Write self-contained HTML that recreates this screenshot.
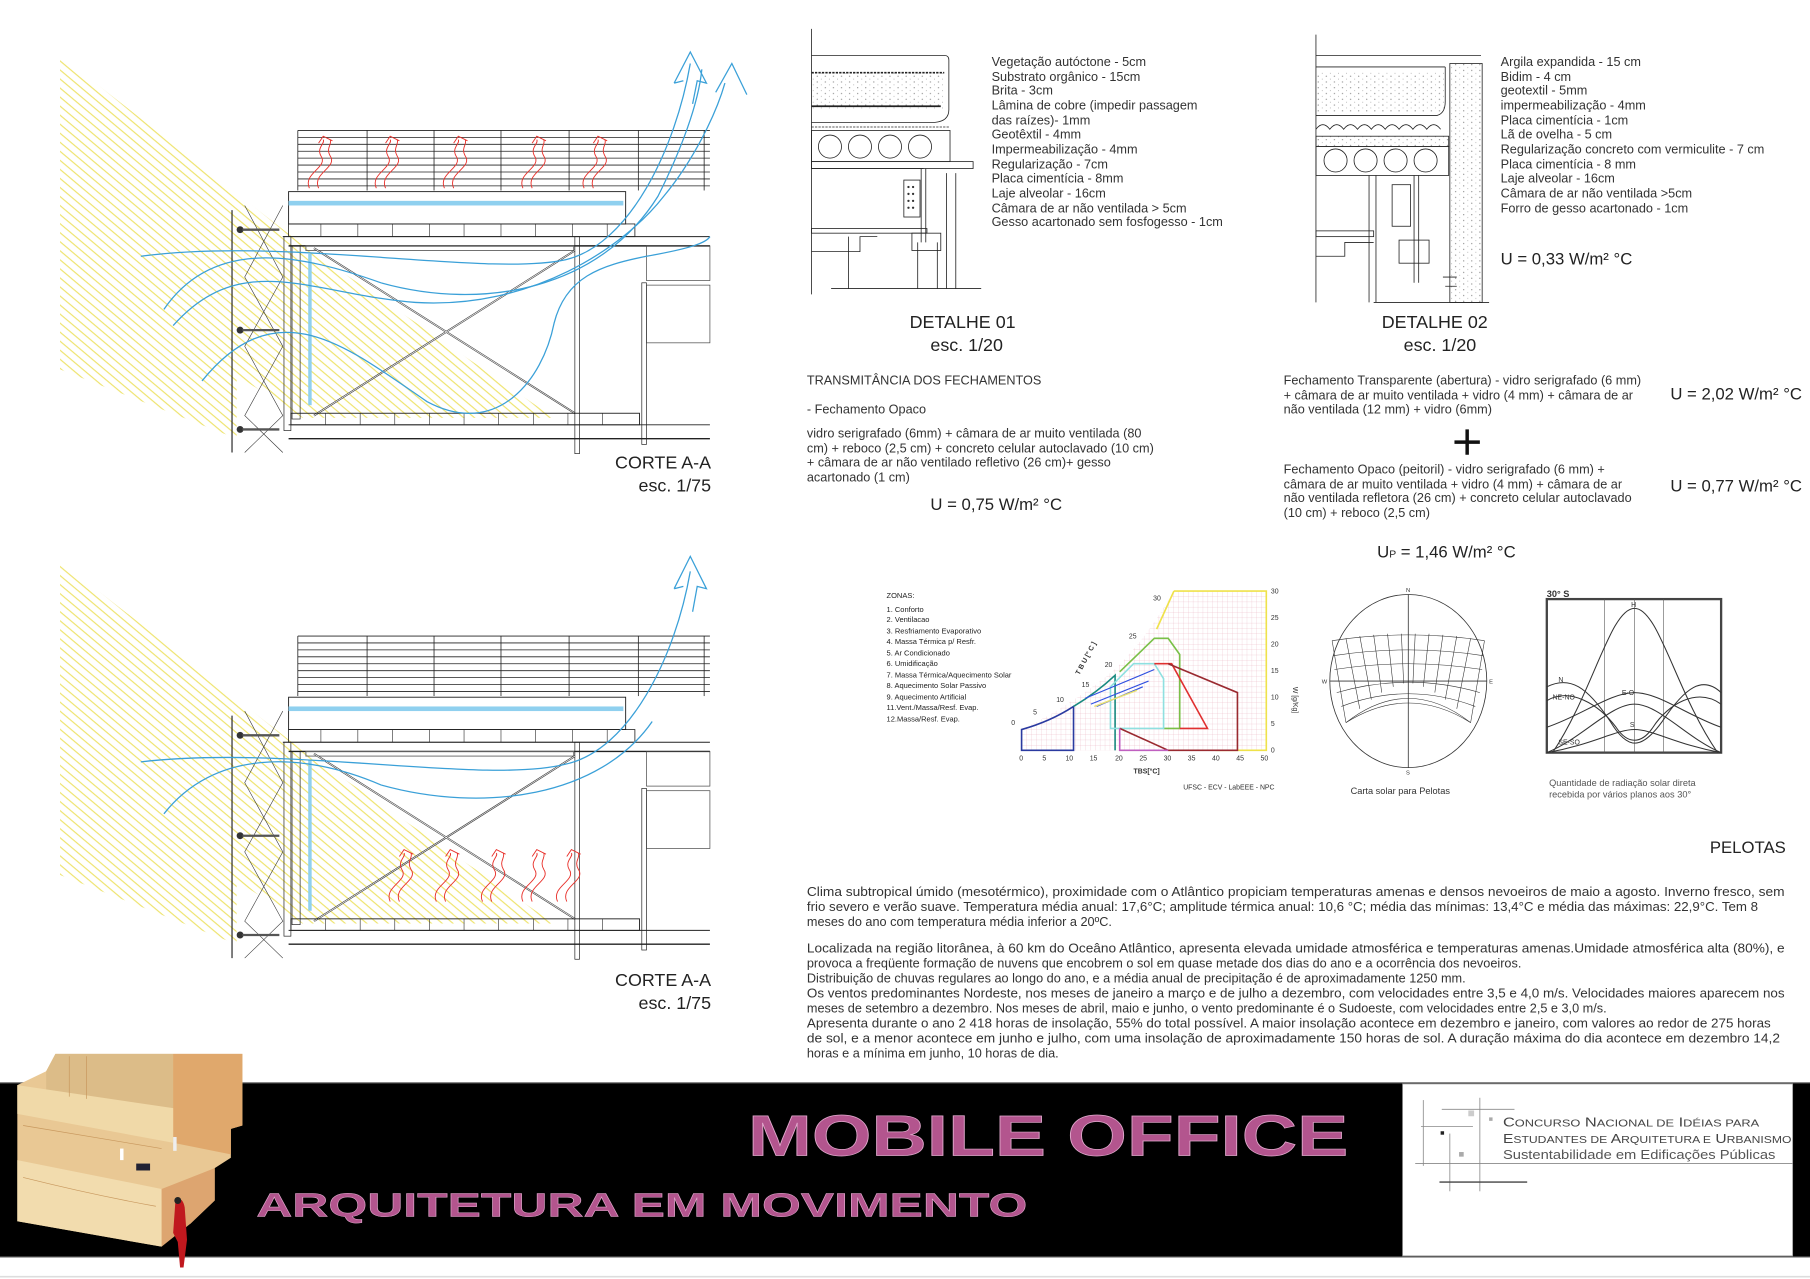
<!DOCTYPE html>
<html><head><meta charset="utf-8"><style>
html,body{margin:0;padding:0;background:#fff;}
svg{display:block;}
text{font-family:"Liberation Sans",sans-serif;}
</style></head><body>
<svg width="1810" height="1279" viewBox="0 0 1568 1108" xmlns="http://www.w3.org/2000/svg">
<defs>
<pattern id="yl" patternUnits="userSpaceOnUse" width="6" height="6" patternTransform="rotate(40)">
<line x1="0" y1="1" x2="6" y2="1" stroke="#ece05a" stroke-width="0.9"/>
</pattern>
<pattern id="grid" patternUnits="userSpaceOnUse" width="4.24" height="4.6" x="885" y="512">
<path d="M0,0V4.6M0,0H4.24" stroke="#e8b0c0" stroke-width="0.4" fill="none"/>
</pattern>
<pattern id="dots" patternUnits="userSpaceOnUse" width="7" height="5">
<circle cx="1" cy="1" r="0.5" fill="#777"/><circle cx="4.5" cy="3.5" r="0.4" fill="#999"/>
</pattern>
<g id="bld">
<polygon points="52,48 262,212 480,362 262,362 205,325 205,380 52,320" fill="url(#yl)"/>
<line x1="201" y1="182" x2="201" y2="392" stroke="#222" stroke-width="1"/>
<path d="M212,178 L245,240 L212,300 L245,360 L212,392 M245,178 L212,240 L245,300 L212,360 L245,392" stroke="#333" stroke-width="0.5" fill="none"/>
<g fill="#333"><circle cx="208" cy="199" r="3"/><circle cx="208" cy="286" r="3"/><circle cx="208" cy="372" r="3"/></g>
<path d="M210,199 H242 M210,286 H242 M210,372 H242" stroke="#555" stroke-width="2"/>
<g stroke="#222" stroke-width="0.7">
<line x1="258" y1="113" x2="615" y2="113"/>
<line x1="258" y1="119" x2="615" y2="119"/><line x1="258" y1="125" x2="615" y2="125"/>
<line x1="258" y1="131" x2="615" y2="131"/><line x1="258" y1="137" x2="615" y2="137"/>
<line x1="258" y1="143" x2="615" y2="143"/><line x1="258" y1="149" x2="615" y2="149"/>
<line x1="258" y1="155" x2="615" y2="155"/><line x1="258" y1="161" x2="615" y2="161"/>
<line x1="258" y1="113" x2="258" y2="165"/><line x1="318" y1="113" x2="318" y2="165"/>
<line x1="376" y1="113" x2="376" y2="165"/><line x1="434" y1="113" x2="434" y2="165"/>
<line x1="493" y1="113" x2="493" y2="165"/><line x1="553" y1="113" x2="553" y2="165"/>
<line x1="610" y1="113" x2="610" y2="165"/>
</g>
<rect x="250" y="166" width="292" height="28" fill="none" stroke="#222" stroke-width="0.8"/>
<rect x="250" y="174" width="290" height="4" fill="#8fd0ef"/>
<rect x="250" y="194" width="300" height="11" fill="none" stroke="#222" stroke-width="0.7"/>
<path d="M278,194v11M310,194v11M340,194v11M372,194v11M402,194v11M434,194v11M464,194v11M496,194v11M526,194v11" stroke="#222" stroke-width="0.5"/>
<line x1="245" y1="205" x2="615" y2="205" stroke="#222" stroke-width="0.8"/>
<line x1="250" y1="213" x2="615" y2="213" stroke="#222" stroke-width="1.2"/>
<rect x="265" y="213" width="232" height="4" fill="none" stroke="#666" stroke-width="0.8"/>
<rect x="246" y="205" width="6" height="168" fill="none" stroke="#222" stroke-width="0.6"/>
<rect x="253" y="213" width="7" height="150" fill="none" stroke="#222" stroke-width="0.6"/>
<rect x="267" y="220" width="3" height="131" fill="#8fd0ef"/>
<rect x="498" y="205" width="4" height="188" fill="none" stroke="#222" stroke-width="0.6"/>
<rect x="556" y="245" width="4" height="140" fill="none" stroke="#222" stroke-width="0.6"/>
<rect x="560" y="213" width="55" height="30" fill="none" stroke="#444" stroke-width="0.6"/>
<rect x="560" y="247" width="55" height="50" fill="none" stroke="#444" stroke-width="0.6"/>
<path d="M272,215 L498,358 M272,360 L498,217" stroke="#333" stroke-width="1.6" fill="none"/>
<path d="M272,215 L498,358 M272,360 L498,217" stroke="#fff" stroke-width="0.6" fill="none"/>
<rect x="252" y="358" width="302" height="10" fill="none" stroke="#222" stroke-width="0.8"/>
<path d="M282,358v10M312,358v10M342,358v10M372,358v10M402,358v10M432,358v10M462,358v10M492,358v10M522,358v10" stroke="#222" stroke-width="0.5"/>
<line x1="250" y1="368" x2="615" y2="368" stroke="#222" stroke-width="0.8"/>
<line x1="250" y1="380" x2="615" y2="380" stroke="#222" stroke-width="1.2"/>
</g>
</defs>

<use href="#bld"/>
<g fill="none" stroke="#3aa0d8" stroke-width="1.1">
<path d="M122,222 C250,205 420,240 490,225 C545,212 585,130 598,55"/>
<path d="M142,268 C185,205 260,220 330,245 C420,270 520,250 570,170 C590,130 605,90 608,60"/>
<path d="M150,282 C210,215 270,255 360,262 C460,268 540,215 575,170 C600,140 620,100 628,72"/>
<path d="M175,330 C240,250 300,300 370,348 C430,380 470,330 480,280 C490,240 520,230 560,222 C600,215 612,210 615,205"/>
</g>
<path d="M584,72 L598,45 L612,72 L604,70 L600,90 M592,70 L584,72" fill="none" stroke="#3aa0d8" stroke-width="1.1"/>
<path d="M620,80 L634,55 L647,82" fill="none" stroke="#3aa0d8" stroke-width="1.1"/>
<g fill="none" stroke="#e8302a" stroke-width="0.8">
<path id="sq" d="M268,163 C262,150 285,145 278,135 C274,128 282,124 280,121 M276,163 C270,150 293,145 286,135 C282,128 288,125 286,121 M276,124 L280,118 L288,122"/>
<use href="#sq" x="58"/><use href="#sq" x="117"/><use href="#sq" x="185"/><use href="#sq" x="238"/>
</g>

<use href="#bld" y="438"/>
<g fill="none" stroke="#3aa0d8" stroke-width="1.1">
<path d="M122,660 C250,645 420,680 490,662 C545,650 585,570 598,495"/>
<path d="M142,705 C185,650 260,650 330,680 C420,705 520,690 565,625"/>
</g>
<path d="M584,510 L598,482 L612,510 L604,508 L600,530 M592,508 L584,510" fill="none" stroke="#3aa0d8" stroke-width="1.1"/>
<g fill="none" stroke="#e8302a" stroke-width="0.8">
<use href="#sq" x="70" y="618"/><use href="#sq" x="110" y="618"/><use href="#sq" x="150" y="618"/><use href="#sq" x="185" y="618"/><use href="#sq" x="215" y="618"/>
</g>

<g font-size="15.5" fill="#222" text-anchor="end">
<text x="616" y="406">CORTE A-A</text><text x="616" y="426">esc. 1/75</text>
<text x="616" y="854">CORTE A-A</text><text x="616" y="874">esc. 1/75</text>
</g>

<g fill="none" stroke="#222" stroke-width="0.7">
<line x1="703" y1="25" x2="703" y2="255"/>
<path d="M703,48 H818 Q822,48 822,52 V95 Q822,105 810,106 H703"/>
<rect x="703" y="63" width="116" height="32" fill="url(#dots)" stroke="none"/>
<line x1="703" y1="63" x2="818" y2="63" stroke-width="1.4" stroke-dasharray="2 1"/>
<line x1="703" y1="92" x2="815" y2="92" stroke-width="1.5"/>
<line x1="703" y1="110" x2="822" y2="110" stroke-dasharray="2 1"/>
<rect x="703" y="113" width="120" height="27"/>
<circle cx="719" cy="127" r="10"/><circle cx="745" cy="127" r="10"/><circle cx="771" cy="127" r="10"/><circle cx="797" cy="127" r="10"/>
<rect x="703" y="140" width="140" height="6"/>
<line x1="703" y1="146" x2="800" y2="146"/>
<path d="M798,146 V210 M802,146 V210"/>
<rect x="783" y="156" width="14" height="32"/>
<rect x="703" y="198" width="100" height="4"/>
<path d="M703,218 H745 V205 H760"/>
<rect x="790" y="202" width="25" height="15"/>
<path d="M820,150 V250 M828,150 V250 M812,210 V250 M795,210 V250 M735,205 V250"/>
<line x1="720" y1="250" x2="850" y2="250"/>
</g>
<g fill="#333"><circle cx="787" cy="162" r="1"/><circle cx="791" cy="162" r="1"/><circle cx="787" cy="168" r="1"/><circle cx="791" cy="168" r="1"/><circle cx="787" cy="174" r="1"/><circle cx="791" cy="174" r="1"/><circle cx="787" cy="180" r="1"/><circle cx="791" cy="180" r="1"/></g>

<g fill="none" stroke="#222" stroke-width="0.7">
<line x1="1140" y1="30" x2="1140" y2="262"/>
<path d="M1140,48 H1283 M1140,58 H1252"/>
<rect x="1140" y="62" width="112" height="36" fill="url(#dots)" stroke="none"/>
<path d="M1140,100 H1245 Q1252,98 1252,88 V58"/>
<path d="M1140,112 q6,-8 12,0 q6,-8 12,0 q6,-8 12,0 q6,-8 12,0 q6,-8 12,0 q6,-8 12,0 q6,-8 12,0 q6,-8 12,0 q6,-8 12,0"/>
<rect x="1140" y="118" width="115" height="9" fill="url(#dots)"/>
<rect x="1140" y="127" width="115" height="25"/>
<circle cx="1157" cy="139" r="10"/><circle cx="1183" cy="139" r="10"/><circle cx="1209" cy="139" r="10"/><circle cx="1235" cy="139" r="10"/>
<rect x="1256" y="55" width="28" height="207" fill="url(#dots)"/>
<path d="M1186,152 V262 M1192,152 V262 M1225,152 V245 M1229,152 V245"/>
<rect x="1206" y="160" width="16" height="36"/>
<rect x="1140" y="200" width="50" height="5"/>
<path d="M1140,222 H1165 V210 H1190"/>
<rect x="1212" y="208" width="26" height="20"/>
<path d="M1250,240 H1262 M1252,248 H1262"/>
<line x1="1190" y1="262" x2="1290" y2="262"/>
</g>

<g font-size="11" fill="#333">
<text x="859" y="57">Vegetação autóctone - 5cm</text>
<text x="859" y="70">Substrato orgânico - 15cm</text>
<text x="859" y="82">Brita - 3cm</text>
<text x="859" y="95">Lâmina de cobre (impedir passagem</text>
<text x="859" y="108">das raízes)- 1mm</text>
<text x="859" y="120">Geotêxtil - 4mm</text>
<text x="859" y="133">Impermeabilização - 4mm</text>
<text x="859" y="146">Regularização - 7cm</text>
<text x="859" y="158">Placa cimentícia - 8mm</text>
<text x="859" y="171">Laje alveolar - 16cm</text>
<text x="859" y="184">Câmara de ar não ventilada &gt; 5cm</text>
<text x="859" y="196">Gesso acartonado sem fosfogesso - 1cm</text>
<text x="1300" y="57">Argila expandida - 15 cm</text>
<text x="1300" y="70">Bidim - 4 cm</text>
<text x="1300" y="82">geotextil - 5mm</text>
<text x="1300" y="95">impermeabilização - 4mm</text>
<text x="1300" y="108">Placa cimentícia - 1cm</text>
<text x="1300" y="120">Lã de ovelha - 5 cm</text>
<text x="1300" y="133">Regularização concreto com vermiculite - 7 cm</text>
<text x="1300" y="146">Placa cimentícia - 8 mm</text>
<text x="1300" y="158">Laje alveolar - 16cm</text>
<text x="1300" y="171">Câmara de ar não ventilada &gt;5cm</text>
<text x="1300" y="184">Forro de gesso acartonado - 1cm</text>
</g>
<text x="1300" y="229" font-size="14.5" fill="#222">U = 0,33 W/m² °C</text>
<g font-size="15.5" fill="#222">
<text x="788" y="284">DETALHE 01</text><text x="806" y="304">esc. 1/20</text>
<text x="1197" y="284">DETALHE 02</text><text x="1216" y="304">esc. 1/20</text>
</g>

<g font-size="11" fill="#333">
<text x="699" y="333">TRANSMITÂNCIA DOS FECHAMENTOS</text>
<text x="699" y="358">- Fechamento Opaco</text>
<text x="699" y="379">vidro serigrafado (6mm) + câmara de ar muito ventilada (80</text>
<text x="699" y="392">cm) + reboco (2,5 cm) + concreto celular autoclavado (10 cm)</text>
<text x="699" y="404">+ câmara de ar não ventilado refletivo (26 cm)+ gesso</text>
<text x="699" y="417">acartonado (1 cm)</text>
<text x="1112" y="333">Fechamento Transparente (abertura) - vidro serigrafado (6 mm)</text>
<text x="1112" y="346">+ câmara de ar muito ventilada + vidro (4 mm) + câmara de ar</text>
<text x="1112" y="358">não ventilada (12 mm) + vidro (6mm)</text>
<text x="1112" y="410">Fechamento Opaco (peitoril) - vidro serigrafado (6 mm) +</text>
<text x="1112" y="423">câmara de ar muito ventilada + vidro (4 mm) + câmara de ar</text>
<text x="1112" y="435">não ventilada refletora (26 cm) + concreto celular autoclavado</text>
<text x="1112" y="448">(10 cm) + reboco (2,5 cm)</text>
</g>
<g font-size="14.5" fill="#222">
<text x="806" y="442">U = 0,75 W/m² °C</text>
<text x="1447" y="346">U = 2,02 W/m² °C</text>
<text x="1447" y="426">U = 0,77 W/m² °C</text>
<text x="1193" y="483">U<tspan font-size="9">P</tspan> = 1,46 W/m² °C</text>
</g>
<path d="M1260,383 H1282 M1271,372 V394" stroke="#111" stroke-width="3"/>

<g font-size="6.5" fill="#222">
<text x="768" y="518">ZONAS:</text>
<text x="768" y="530">1. Conforto</text><text x="768" y="539">2. Ventilacao</text>
<text x="768" y="549">3. Resfriamento Evaporativo</text><text x="768" y="558">4. Massa Térmica p/ Resfr.</text>
<text x="768" y="568">5. Ar Condicionado</text><text x="768" y="577">6. Umidificação</text>
<text x="768" y="587">7. Massa Térmica/Aquecimento Solar</text><text x="768" y="596">8. Aquecimento Solar Passivo</text>
<text x="768" y="606">9. Aquecimento Artificial</text><text x="768" y="615">11.Vent./Massa/Resf. Evap.</text>
<text x="768" y="625">12.Massa/Resf. Evap.</text>
</g>
<path d="M885,650 V632 Q930,610 968,578 Q995,550 1017,512 H1097 V650 Z" fill="url(#grid)"/>
<g fill="none" stroke-width="1.4">
<path d="M1017,512 H1097 V650 H1053 M1017,512 L1002,545" stroke="#efe24a"/>
<path d="M885,650 V632 Q910,625 930,612 L930,650 Z" stroke="#2a3aa0"/>
<path d="M930,612 Q950,600 966,585 V650" stroke="#1a8a80"/>
<path d="M970,582 L1000,553 H1012 L1022,567 V631 H1008" stroke="#7ac048"/>
<path d="M962,631 V595 L982,575 H1000 L1008,588 V631 Z" stroke="#8fe0e0"/>
<path d="M1000,575 H1015 L1046,631 H1022" stroke="#e03030"/>
<path d="M1012,575 L1072,600 V650 H1012 L970,631" stroke="#9a2a30"/>
<path d="M970,631 V650 H1012" stroke="#c060c0"/>
<path d="M940,605 L1000,580 M945,610 L995,590 M950,612 L990,595" stroke="#3050e0" stroke-width="1"/>
<path d="M948,612 L985,598" stroke="#e8e070" stroke-width="1.2"/>
</g>
<g font-size="6" fill="#333">
<text x="883" y="659">0</text><text x="903" y="659">5</text><text x="923" y="659">10</text><text x="944" y="659">15</text><text x="966" y="659">20</text><text x="987" y="659">25</text><text x="1008" y="659">30</text><text x="1029" y="659">35</text><text x="1050" y="659">40</text><text x="1071" y="659">45</text><text x="1092" y="659">50</text>
<text x="1101" y="652">0</text><text x="1101" y="629">5</text><text x="1101" y="606">10</text><text x="1101" y="583">15</text><text x="1101" y="560">20</text><text x="1101" y="537">25</text><text x="1101" y="514">30</text>
<text x="876" y="628">0</text><text x="895" y="619">5</text><text x="915" y="608">10</text><text x="937" y="595">15</text><text x="957" y="578">20</text><text x="978" y="553">25</text><text x="999" y="520">30</text>
<text x="982" y="670" font-family="Liberation Serif" font-weight="bold">TBS[°C]</text>
<text x="1025" y="684">UFSC - ECV - LabEEE - NPC</text>
<text x="935" y="585" transform="rotate(-62 935 585)" font-weight="bold">T B U [° C ]</text>
<text x="1120" y="595" transform="rotate(90 1120 595)">W [g/Kg]</text>
</g>

<g fill="none" stroke="#333" stroke-width="0.7">
<ellipse cx="1220" cy="590" rx="68" ry="75"/>
<line x1="1220" y1="515" x2="1220" y2="665"/>
<line x1="1152" y1="590" x2="1288" y2="590"/>
<path d="M1154,555 Q1220,545 1286,555 M1155,568 Q1220,558 1285,568 M1156,580 Q1220,570 1284,580 M1158,600 Q1220,582 1282,600 M1162,612 Q1220,590 1278,612 M1166,626 Q1220,592 1274,626" stroke-width="0.5"/>
<path d="M1166,626 Q1220,584 1274,626 M1154,555 L1166,626 M1286,555 L1274,626 M1166,553 L1178,614 M1178,551 L1188,606 M1190,550 L1197,600 M1202,549 L1207,595 M1214,549 L1216,592 M1226,549 L1224,592 M1238,549 L1233,595 M1250,550 L1243,600 M1262,551 L1252,606 M1274,553 L1262,614" stroke-width="0.5"/>
</g>
<g font-size="5" fill="#333"><text x="1218" y="513">N</text><text x="1218" y="671">S</text><text x="1145" y="592">W</text><text x="1290" y="592">E</text></g>
<text x="1170" y="688" font-size="8" fill="#333">Carta solar para Pelotas</text>

<text x="1340" y="517" font-size="8" font-weight="bold" fill="#333">30° S</text>
<rect x="1340" y="519" width="151" height="133" fill="none" stroke="#444" stroke-width="2"/>
<path d="M1390,519 V652 M1416,519 V652 M1441,519 V652" stroke="#555" stroke-width="0.5"/>
<g fill="none" stroke="#333" stroke-width="0.9">
<path d="M1345,652 C1380,600 1395,527 1416,527 C1437,527 1452,600 1488,652"/>
<path d="M1340,595 C1360,585 1375,595 1395,625 C1410,650 1422,650 1440,625 C1460,595 1475,585 1491,600"/>
<path d="M1340,607 C1360,595 1385,610 1400,630 C1410,645 1422,645 1432,630 C1445,610 1470,595 1491,610"/>
<path d="M1340,630 C1370,620 1395,600 1416,600 C1437,600 1462,620 1491,630"/>
<path d="M1340,652 C1370,640 1395,610 1416,610 C1437,610 1462,640 1491,652"/>
<path d="M1340,652 C1380,645 1400,632 1416,632 C1432,632 1452,645 1491,652"/>
</g>
<g font-size="6" fill="#333"><text x="1413" y="526">H</text><text x="1350" y="591">N</text><text x="1345" y="606">NE-NO</text><text x="1405" y="602">E-O</text><text x="1412" y="630">S</text><text x="1350" y="645">SE-SO</text></g>
<text x="1342" y="681" font-size="8" fill="#555">Quantidade de radiação solar direta</text>
<text x="1342" y="691" font-size="8" fill="#555">recebida por vários planos aos 30°</text>

<text x="1547" y="739" font-size="14.5" fill="#222" text-anchor="end">PELOTAS</text>

<g font-size="11" fill="#333">
<text x="699" y="776" textLength="847" lengthAdjust="spacingAndGlyphs">Clima subtropical úmido (mesotérmico), proximidade com o Atlântico propiciam temperaturas amenas e densos nevoeiros de maio a agosto. Inverno fresco, sem</text>
<text x="699" y="789" textLength="824" lengthAdjust="spacingAndGlyphs">frio severo e verão suave. Temperatura média anual: 17,6°C; amplitude térmica anual: 10,6 °C; média das mínimas: 13,4°C e média das máximas: 22,9°C. Tem 8</text>
<text x="699" y="802">meses do ano com temperatura média inferior a 20ºC.</text>
<text x="699" y="825" textLength="847" lengthAdjust="spacingAndGlyphs">Localizada na região litorânea, à 60 km do Oceâno Atlântico, apresenta elevada umidade atmosférica e temperaturas amenas.Umidade atmosférica alta (80%), e</text>
<text x="699" y="838">provoca a freqüente formação de nuvens que encobrem o sol em quase metade dos dias do ano e a ocorrência dos nevoeiros.</text>
<text x="699" y="851">Distribuição de chuvas regulares ao longo do ano, e a média anual de precipitação é de aproximadamente 1250 mm.</text>
<text x="699" y="864" textLength="847" lengthAdjust="spacingAndGlyphs">Os ventos predominantes Nordeste, nos meses de janeiro a março e de julho a dezembro, com velocidades entre 3,5 e 4,0 m/s. Velocidades maiores aparecem nos</text>
<text x="699" y="877">meses de setembro a dezembro.  Nos meses de abril, maio e junho, o vento predominante é o Sudoeste, com velocidades entre 2,5 e 3,0 m/s.</text>
<text x="699" y="890" textLength="835" lengthAdjust="spacingAndGlyphs">Apresenta durante o ano 2 418 horas de insolação, 55% do total possível. A maior insolação acontece em dezembro e janeiro, com valores ao redor de 275 horas</text>
<text x="699" y="903" textLength="843" lengthAdjust="spacingAndGlyphs">de sol, e a menor acontece em junho e julho, com uma insolação de aproximadamente 150 horas de sol.  A duração máxima do dia acontece em dezembro 14,2</text>
<text x="699" y="916">horas e a mínima em junho, 10 horas de dia.</text>
</g>

<rect x="0" y="938" width="1568" height="151" fill="#000"/>
<line x1="0" y1="938" x2="1568" y2="938" stroke="#777" stroke-width="1"/>
<line x1="0" y1="1089" x2="1568" y2="1089" stroke="#777" stroke-width="1"/>
<rect x="1215" y="939" width="338" height="149" fill="#fff" stroke="#888" stroke-width="0.6"/>
<line x1="0" y1="1106" x2="1568" y2="1106" stroke="#ddd" stroke-width="1.5"/>
<g stroke="#888" stroke-width="0.7">
<line x1="1233" y1="953" x2="1233" y2="1010"/><line x1="1282" y1="951" x2="1282" y2="1032"/>
<line x1="1256" y1="982" x2="1256" y2="1032"/><line x1="1249" y1="961" x2="1312" y2="961"/>
<line x1="1231" y1="976" x2="1276" y2="976"/><line x1="1226" y1="1008" x2="1553" y2="1008"/>
<line x1="1247" y1="1024" x2="1323" y2="1024" stroke-width="1.2" stroke="#444"/>
</g>
<rect x="1272" y="962" width="5" height="5" fill="#ccc"/><rect x="1248" y="980" width="3" height="3" fill="#222"/><rect x="1264" y="998" width="4" height="4" fill="#aaa"/><rect x="1290" y="968" width="3" height="3" fill="#aaa"/>
<g fill="#444" font-size="11.5">
<text x="1302" y="976" textLength="222" lengthAdjust="spacingAndGlyphs">C<tspan font-size="9">ONCURSO</tspan> N<tspan font-size="9">ACIONAL DE</tspan> I<tspan font-size="9">DÉIAS PARA</tspan></text>
<text x="1302" y="990" textLength="250" lengthAdjust="spacingAndGlyphs">E<tspan font-size="9">STUDANTES DE</tspan> A<tspan font-size="9">RQUITETURA E</tspan> U<tspan font-size="9">RBANISMO</tspan></text>
<text x="1302" y="1004" textLength="236" lengthAdjust="spacingAndGlyphs" fill="#555">Sustentabilidade em Edificações Públicas</text>
</g>
<text x="648" y="1001" font-size="50" font-weight="bold" fill="#b3558e" stroke="#e0a8cc" stroke-width="0.6" textLength="520" lengthAdjust="spacingAndGlyphs">MOBILE OFFICE</text>
<text x="222" y="1054" font-size="29" font-weight="bold" fill="#b3558e" stroke="#e0a8cc" stroke-width="0.4" textLength="668" lengthAdjust="spacingAndGlyphs">ARQUITETURA EM MOVIMENTO</text>

<polygon points="48,913 210,913 210,975 200,978 200,1003 186,1012 186,1040 165,1060 150,1068 140,1080 15,1058 15,940 40,928" fill="#e9c894"/>
<polygon points="48,913 150,913 150,960 40,950 40,928" fill="#dcbc88"/>
<polygon points="150,913 210,913 210,975 200,978 200,1000 150,990" fill="#e0a86c"/>
<polygon points="15,940 150,960 150,990 15,965" fill="#f0d9a8"/>
<polygon points="15,1005 140,1030 140,1080 15,1058" fill="#f2dcae"/>
<polygon points="140,1030 186,1012 186,1040 165,1060 140,1080" fill="#dda570"/>
<g stroke="#c8985e" stroke-width="0.6" fill="none"><path d="M20,975 Q80,985 140,995 M20,1020 Q80,1035 135,1045 M60,915 V950 M75,915 V952"/></g>
<path d="M152,1040 q6,-4 8,6 l2,28 l-3,24 h-3 l-2,-22 l-4,-8 z" fill="#c0181e"/>
<circle cx="154" cy="1040" r="3" fill="#222"/>
<rect x="150" y="985" width="3" height="12" fill="#eee"/><rect x="118" y="1008" width="12" height="6" fill="#223"/><rect x="104" y="995" width="3" height="10" fill="#fff"/>
</svg>
</body></html>
